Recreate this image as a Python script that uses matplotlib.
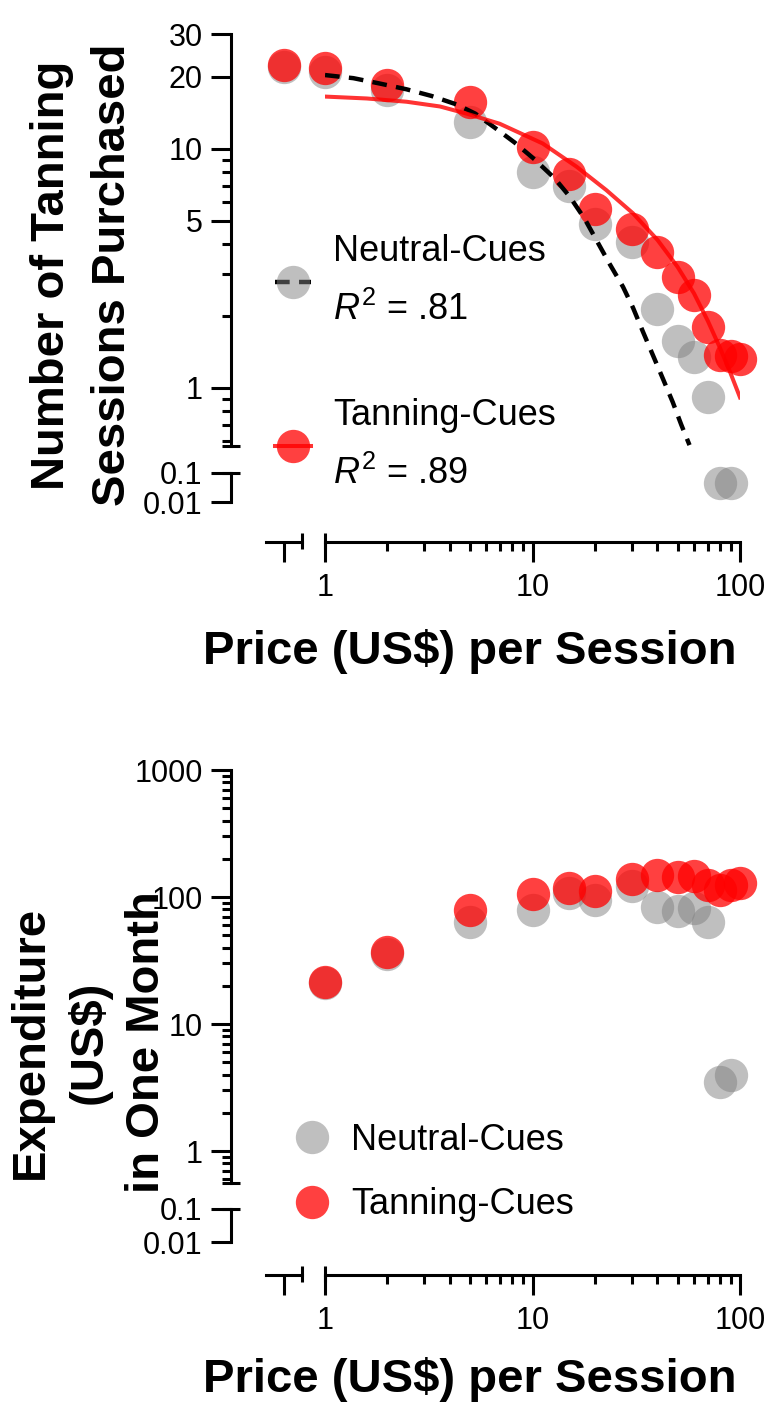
import numpy as np
import matplotlib.pyplot as plt
from matplotlib.lines import Line2D
from matplotlib.ticker import NullFormatter, NullLocator

plt.rcParams['font.family'] = ['Liberation Sans', 'DejaVu Sans']
plt.rcParams['mathtext.fontset'] = 'custom'
plt.rcParams['mathtext.rm'] = 'Liberation Sans'
plt.rcParams['mathtext.it'] = 'Liberation Sans:italic'

# ---- data ----
PRICE = [0, 1, 2, 5, 10, 15, 20, 30, 40, 50, 60, 70, 80, 90, 100]

NEUTRAL_SESSIONS = [22.0, 21.0, 17.6, 12.9, 8.0, 7.0, 4.85, 4.06, 2.13, 1.57, 1.34, 0.91,
                    0.044, 0.044, np.nan]
TANNING_SESSIONS = [22.4, 21.7, 18.4, 15.6, 10.2, 7.85, 5.6, 4.6, 3.7, 2.9, 2.44, 1.8,
                    1.37, 1.36, 1.32]

NEUTRAL_SPEND = [np.nan, 21.0, 35.5, 64, 78.5, 107, 95, 121, 84, 77, 82, 63, 3.5, 3.96, np.nan]
TANNING_SPEND = [np.nan, 21.3, 36.6, 78.5, 105, 118, 112, 139, 150, 145, 147, 125, 114, 125, 130]

# fitted demand curves
NEUTRAL_FIT_X = [1.0, 1.37, 1.84, 2.47, 3.26, 4.3, 5.3, 6.6, 8.2, 10.25, 12.8, 15.1, 17.8,
                 20.3, 23.5, 27.3, 30.5, 34.0, 38.0, 42.5, 47.4, 52.1, 57.1]
NEUTRAL_FIT_Y = [20.3, 19.7, 18.7, 17.7, 16.6, 15.3, 14.0, 12.2, 10.6, 9.0, 7.5, 6.3, 5.1,
                 4.15, 3.3, 2.64, 2.16, 1.72, 1.37, 1.09, 0.87, 0.70, 0.575]
TANNING_FIT_X = [1.0, 1.59, 2.47, 3.58, 4.81, 6.95, 11.2, 16.3, 22.7, 30.5, 40, 50, 60, 70,
                 80, 90, 100]
TANNING_FIT_Y = [16.5, 16.2, 15.7, 15.0, 14.0, 12.7, 10.5, 8.4, 6.7, 5.36, 4.15, 3.2, 2.48,
                 1.9, 1.47, 1.15, 0.91]

X_MAJOR = [1, 10, 100]
X_LABELS = ['1', '10', '100']
X_MINOR = [2, 3, 4, 5, 6, 7, 8, 9, 20, 30, 40, 50, 60, 70, 80, 90]

TOP_YMAJOR = [1, 5, 10, 20, 30]
TOP_YLABELS = ['1', '5', '10', '20', '30']
TOP_YMINOR = [0.6, 0.7, 0.8, 0.9, 2, 3, 4, 6, 7, 8, 9]

BOT_YMAJOR = [1, 10, 100, 1000]
BOT_YLABELS = ['1', '10', '100', '1000']
BOT_YMINOR = [0.6, 0.7, 0.8, 0.9] + [m * d for d in (1, 10, 100) for m in range(2, 10)]

LOW_TICKS = [0.01, 0.1]
LOW_LABELS = ['0.01', '0.1']

# ---- styling ----
W, H = 768, 1427
PT = 0.72            # points per pixel at dpi=100
LW = 2.2
GREY = (0.5, 0.5, 0.5, 0.5)
RED = (1.0, 0.0, 0.0, 0.75)
RED_LINE = (1.0, 0.0, 0.0, 0.8)
MS = 24
DASH = (0, (3.3, 2.1))

Y_AXIS_X = 231
X_ZERO = (266, 302)
X_MAIN = (325, 740)

fig = plt.figure(figsize=(W / 100, H / 100), dpi=100)


def px_axes(left, right, top, bottom):
    ax = fig.add_axes([left / W, 1 - bottom / H, (right - left) / W, (bottom - top) / H])
    ax.set_facecolor('none')
    for s in ax.spines.values():
        s.set_visible(False)
        s.set_linewidth(LW)
    return ax


def style_ticks(ax):
    ax.tick_params(which='major', direction='out', length=20 * PT, width=LW,
                   labelsize=22, colors='black')
    ax.tick_params(which='minor', direction='out', length=9 * PT, width=LW)
    ax.tick_params(axis='x', which='major', pad=8)
    ax.tick_params(axis='y', which='major', pad=6)


def cap(x0, y0, x1, y1):
    fig.add_artist(Line2D([x0 / W, x1 / W], [1 - y0 / H, 1 - y1 / H],
                          transform=fig.transFigure, color='black', lw=LW,
                          solid_capstyle='butt'))


def make_panel(main_top, main_bot, low_top, low_bot, axis_y, ylim, ymajor, ylabels, yminor):
    ax = px_axes(X_MAIN[0], X_MAIN[1], main_top, main_bot)
    ax.set_xscale('log')
    ax.set_yscale('log')
    ax.set_xlim(1, 100)
    ax.set_ylim(*ylim)
    ax.spines['left'].set_visible(True)
    ax.spines['left'].set_position(('outward', (X_MAIN[0] - Y_AXIS_X) * PT))
    ax.spines['bottom'].set_visible(True)
    ax.spines['bottom'].set_position(('outward', (axis_y - main_bot) * PT))
    ax.set_xticks(X_MAJOR, X_LABELS)
    ax.set_xticks(X_MINOR, minor=True)
    ax.xaxis.set_minor_formatter(NullFormatter())
    ax.set_yticks(ymajor, ylabels)
    ax.set_yticks(yminor, minor=True)
    ax.yaxis.set_minor_formatter(NullFormatter())
    style_ticks(ax)

    ax_low = px_axes(X_MAIN[0], X_MAIN[1], low_top, low_bot)
    ax_low.set_xscale('log')
    ax_low.set_yscale('log')
    ax_low.set_xlim(1, 100)
    ax_low.set_ylim(0.01, 0.1)
    ax_low.spines['left'].set_visible(True)
    ax_low.spines['left'].set_position(('outward', (X_MAIN[0] - Y_AXIS_X) * PT))
    ax_low.xaxis.set_major_locator(NullLocator())
    ax_low.xaxis.set_minor_locator(NullLocator())
    ax_low.set_yticks(LOW_TICKS, LOW_LABELS)
    ax_low.yaxis.set_minor_locator(NullLocator())
    style_ticks(ax_low)

    ax_zero = px_axes(X_ZERO[0], X_ZERO[1], main_top, main_bot)
    ax_zero.set_xlim(-1, 1)
    ax_zero.set_yscale('log')
    ax_zero.set_ylim(*ylim)
    ax_zero.spines['bottom'].set_visible(True)
    ax_zero.spines['bottom'].set_position(('outward', (axis_y - main_bot) * PT))
    ax_zero.set_xticks([0], [''])
    ax_zero.yaxis.set_major_locator(NullLocator())
    ax_zero.yaxis.set_minor_locator(NullLocator())
    style_ticks(ax_zero)

    # break caps on the axis lines
    cap(Y_AXIS_X - 9, main_bot, Y_AXIS_X + 9, main_bot)
    cap(Y_AXIS_X - 9, low_top, Y_AXIS_X + 9, low_top)
    cap(X_ZERO[1], axis_y - 9, X_ZERO[1], axis_y + 7)
    cap(X_MAIN[0], axis_y - 9, X_MAIN[0], axis_y + 7)
    return ax, ax_low, ax_zero


def plot_series(axes, x, y, color, z):
    ax, ax_low, ax_zero = axes
    x = np.asarray(x, float)
    y = np.asarray(y, float)
    kw = dict(ls='none', marker='o', ms=MS, mfc=color, mec='none', clip_on=False, zorder=z)
    lo = ax.get_ylim()[0]
    m = (x >= 1) & (y >= lo)
    ax.plot(x[m], y[m], **kw)
    m = (x >= 1) & (y <= 0.1)
    ax_low.plot(x[m], y[m], **kw)
    m = (x == 0) & (y >= lo)
    ax_zero.plot(x[m], y[m], **kw)


# ---- top panel: sessions purchased ----
top = make_panel(34.5, 446, 473, 502, 542, (0.57, 30), TOP_YMAJOR, TOP_YLABELS, TOP_YMINOR)
plot_series(top, PRICE, NEUTRAL_SESSIONS, GREY, 3)
plot_series(top, PRICE, TANNING_SESSIONS, RED, 4)
ax1 = top[0]
ax1.plot(NEUTRAL_FIT_X, NEUTRAL_FIT_Y, color='black', lw=3.2, ls=DASH, zorder=5)
ax1.plot(TANNING_FIT_X, TANNING_FIT_Y, color=RED_LINE, lw=2.9, zorder=6)

h_neutral = Line2D([], [], color='black', lw=3.2, ls=DASH, marker='o', ms=MS,
                   mfc=GREY, mec='none')
h_tanning = Line2D([], [], color=RED_LINE, lw=2.9, marker='o', ms=MS, mfc=RED, mec='none')
leg1 = ax1.legend([h_neutral, h_tanning],
                  ['Neutral-Cues\n$\\mathit{R}^2$ = .81', 'Tanning-Cues\n$\\mathit{R}^2$ = .89'],
                  loc='center left', bbox_to_anchor=(275 / W, 1 - 363 / H),
                  bbox_transform=fig.transFigure, frameon=False, fontsize=26,
                  handlelength=1.0, handletextpad=0.6, labelspacing=1.95,
                  borderpad=0, borderaxespad=0)
for t in leg1.get_texts():
    t.set_linespacing(1.8)

fig.text(82.5 / W, 1 - 275 / H, 'Number of Tanning\nSessions Purchased', rotation=90,
         ha='center', va='center', fontsize=34, fontweight='bold', linespacing=1.5)
fig.text(470 / W, 1 - 652 / H, 'Price (US$) per Session', ha='center', va='center',
         fontsize=34, fontweight='bold')

# ---- bottom panel: expenditure ----
bot = make_panel(770, 1183, 1209, 1242, 1275, (0.56, 1000), BOT_YMAJOR, BOT_YLABELS, BOT_YMINOR)
plot_series(bot, PRICE, NEUTRAL_SPEND, GREY, 3)
plot_series(bot, PRICE, TANNING_SPEND, RED, 4)
ax2 = bot[0]

g = Line2D([], [], ls='none', marker='o', ms=MS, mfc=GREY, mec='none')
r = Line2D([], [], ls='none', marker='o', ms=MS, mfc=RED, mec='none')
ax2.legend([g, r], ['Neutral-Cues', 'Tanning-Cues'], loc='center left',
           bbox_to_anchor=(293.6 / W, 1 - 1172.5 / H), bbox_transform=fig.transFigure,
           frameon=False, fontsize=26, handlelength=1.0, handletextpad=0.6,
           labelspacing=0.82, borderpad=0, borderaxespad=0)

fig.text(89 / W, 1 - 1042 / H, 'Expenditure\n(US$)\nin One Month', rotation=90,
         ha='center', va='center', fontsize=34, fontweight='bold', linespacing=1.4)
fig.text(470 / W, 1 - 1380 / H, 'Price (US$) per Session', ha='center', va='center',
         fontsize=34, fontweight='bold')

fig.savefig('out.png', dpi=100)
